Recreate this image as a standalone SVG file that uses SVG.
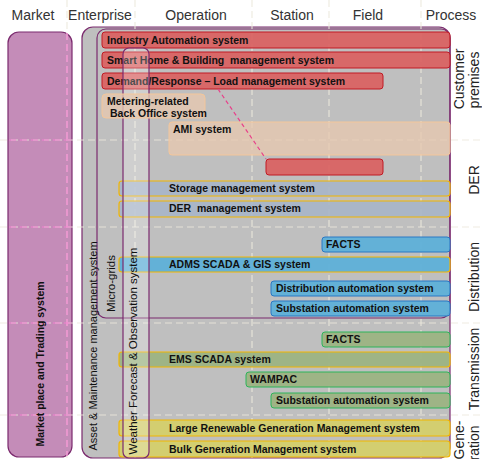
<svg xmlns="http://www.w3.org/2000/svg" width="482" height="459" viewBox="0 0 482 459">
<defs>
<style>
text{font-family:"Liberation Sans",Arial,sans-serif;}
.hdr{font-size:14px;fill:#333;text-anchor:middle;}
.side{font-size:14px;fill:#222;text-anchor:middle;}
.lbl{font-size:10.5px;font-weight:bold;fill:#111;white-space:pre;}
.vt{font-size:11px;fill:#111;text-anchor:middle;}
.grid{stroke:#ece9dc;stroke-opacity:0.85;stroke-width:1.2;stroke-dasharray:7 4;fill:none;}
.pgrid{stroke:#f27fcf;stroke-width:1.2;stroke-dasharray:7 4;fill:none;}
.red{fill:#da5e5e;fill-opacity:0.9;stroke:#c01a24;stroke-width:1;}
.peach{fill:#e6c8b0;fill-opacity:0.8;stroke:#f4c69a;stroke-width:1;}
.stor{fill:#a8b5c8;fill-opacity:0.92;stroke:#f2b600;stroke-width:1.2;}
.blue{fill:#5eb0d8;fill-opacity:0.95;stroke:#2a78c4;stroke-width:1;}
.blueY{fill:#5eb0d8;fill-opacity:0.95;stroke:#f2b600;stroke-width:1.2;}
.green{fill:#9cb383;fill-opacity:0.95;stroke:#2cb45a;stroke-width:1;}
.greenY{fill:#9cb383;fill-opacity:0.95;stroke:#f2b600;stroke-width:1.2;}
.yel{fill:#d4cf6c;fill-opacity:0.95;stroke:#f2b600;stroke-width:1.2;}
.purp{stroke:#7b2a6e;stroke-width:1.2;}
</style>
</defs>
<rect width="482" height="459" fill="#ffffff"/>

<g id="headers">
<text class="hdr" x="33" y="20">Market</text>
<text class="hdr" x="100" y="20">Enterprise</text>
<text class="hdr" x="196" y="20">Operation</text>
<text class="hdr" x="292" y="20">Station</text>
<text class="hdr" x="368" y="20">Field</text>
<text class="hdr" x="451" y="20">Process</text>
</g>

<g id="market">
<rect x="8" y="32" width="64" height="425" rx="11" fill="#c48cb8" class="purp"/>
</g>

<g id="asset">
<rect x="82" y="27" width="368" height="431" rx="11" fill="#bfbfbf" class="purp"/>
</g>
<g id="microgrids">
<rect x="97" y="29" width="353" height="289" rx="9" fill="none" class="purp"/>
</g>

<g id="grid">
<line class="grid" x1="67" y1="0" x2="67" y2="459"/>
<line class="grid" x1="135" y1="0" x2="135" y2="459"/>
<line class="grid" x1="252" y1="0" x2="252" y2="459"/>
<line class="grid" x1="329" y1="0" x2="329" y2="459"/>
<line class="grid" x1="421" y1="0" x2="421" y2="459"/>
<line class="grid" x1="0" y1="140" x2="482" y2="140"/>
<line class="grid" x1="0" y1="227" x2="482" y2="227"/>
<line class="grid" x1="0" y1="323" x2="482" y2="323"/>
<line class="grid" x1="0" y1="415" x2="482" y2="415"/>
<line class="pgrid" x1="67" y1="33" x2="67" y2="456"/>
<line class="pgrid" x1="9" y1="140" x2="71" y2="140"/>
<line class="pgrid" x1="9" y1="227" x2="71" y2="227"/>
<line class="pgrid" x1="9" y1="323" x2="71" y2="323"/>
<line class="pgrid" x1="9" y1="415" x2="71" y2="415"/>
</g>

<g id="industry"><rect class="red" x="102" y="32" width="348" height="16" rx="3"/><text class="lbl" x="107" y="44">Industry Automation system</text></g>
<g id="smarthome"><rect class="red" x="102" y="52" width="348" height="16" rx="3"/><text class="lbl" x="107" y="64">Smart Home &amp; Building  management system</text></g>
<g id="demand"><rect class="red" x="102" y="73" width="281" height="16" rx="3"/><text class="lbl" x="107" y="85">Demand/Response – Load management system</text></g>
<g id="ami"><rect class="peach" x="169" y="122" width="281" height="33" rx="3"/><text class="lbl" x="173" y="133">AMI system</text></g>
<g id="redsmall"><rect class="red" x="266" y="159" width="117" height="16" rx="3"/></g>
<g id="storage"><rect class="stor" x="119" y="181" width="331" height="15" rx="3"/><text class="lbl" x="169" y="192">Storage management system</text></g>
<g id="dermgmt"><rect class="stor" x="119" y="201" width="331" height="16" rx="3"/><text class="lbl" x="169" y="212">DER  management system</text></g>
<g id="facts-d"><rect class="blue" x="322" y="237" width="128" height="15" rx="3"/><text class="lbl" x="326" y="248">FACTS</text></g>
<g id="adms"><rect class="blueY" x="119" y="257" width="331" height="15" rx="3"/><text class="lbl" x="169" y="268">ADMS SCADA &amp; GIS system</text></g>
<g id="distauto"><rect class="blue" x="271" y="281" width="179" height="15" rx="3"/><text class="lbl" x="276" y="292">Distribution automation system</text></g>
<g id="subst-d"><rect class="blue" x="271" y="301" width="179" height="15" rx="3"/><text class="lbl" x="276" y="312">Substation automation system</text></g>
<g id="facts-t"><rect class="green" x="322" y="332" width="128" height="15" rx="3"/><text class="lbl" x="326" y="343">FACTS</text></g>
<g id="ems"><rect class="greenY" x="119" y="352" width="331" height="15" rx="3"/><text class="lbl" x="169" y="363">EMS SCADA system</text></g>
<g id="wampac"><rect class="green" x="246" y="372" width="204" height="15" rx="3"/><text class="lbl" x="250" y="383">WAMPAC</text></g>
<g id="subst-t"><rect class="green" x="271" y="393" width="179" height="15" rx="3"/><text class="lbl" x="276" y="404">Substation automation system</text></g>
<g id="largeren"><rect class="yel" x="119" y="420" width="331" height="16" rx="3"/><text class="lbl" x="169" y="432">Large Renewable Generation Management system</text></g>
<g id="bulkgen"><rect class="yel" x="119" y="441" width="331" height="16" rx="3"/><text class="lbl" x="169" y="453">Bulk Generation Management system</text></g>

<g id="weather">
<rect x="123" y="48" width="26" height="410" rx="6" fill="#ffffff" fill-opacity="0.25" class="purp"/>
</g>

<g id="metering"><rect class="peach" x="102" y="94" width="103" height="24" rx="4" fill-opacity="0.95"/><text class="lbl" x="107" y="105">Metering-related</text><text class="lbl" x="110" y="117">Back Office system</text></g>

<g id="connectors">
<line x1="218" y1="89" x2="266" y2="159" stroke="#e8408a" stroke-width="1.2" stroke-dasharray="4 3"/>
</g>

<g id="verticals">
<text class="vt" style="font-weight:bold;font-size:10.5px" transform="translate(43.5,364) rotate(-90)">Market place and Trading system</text>
<text class="vt" transform="translate(96.5,346) rotate(-90)">Asset &amp; Maintenance management system</text>
<text class="vt" style="font-size:11.5px" transform="translate(114.5,283.5) rotate(-90)">Micro-grids</text>
<text class="vt" style="font-size:11.5px" transform="translate(137,351) rotate(-90)">Weather Forecast &amp; Observation system</text>
</g>

<g id="domains">
<text class="side" transform="translate(463.5,79) rotate(-90)">Customer</text>
<text class="side" transform="translate(479,80) rotate(-90)">premises</text>
<text class="side" transform="translate(479,180) rotate(-90)">DER</text>
<text class="side" transform="translate(479,277) rotate(-90)">Distribution</text>
<text class="side" transform="translate(479,369) rotate(-90)">Transmission</text>
<text class="side" transform="translate(463.5,440) rotate(-90)">Gene-</text>
<text class="side" transform="translate(479,443) rotate(-90)">ration</text>
</g>
</svg>
